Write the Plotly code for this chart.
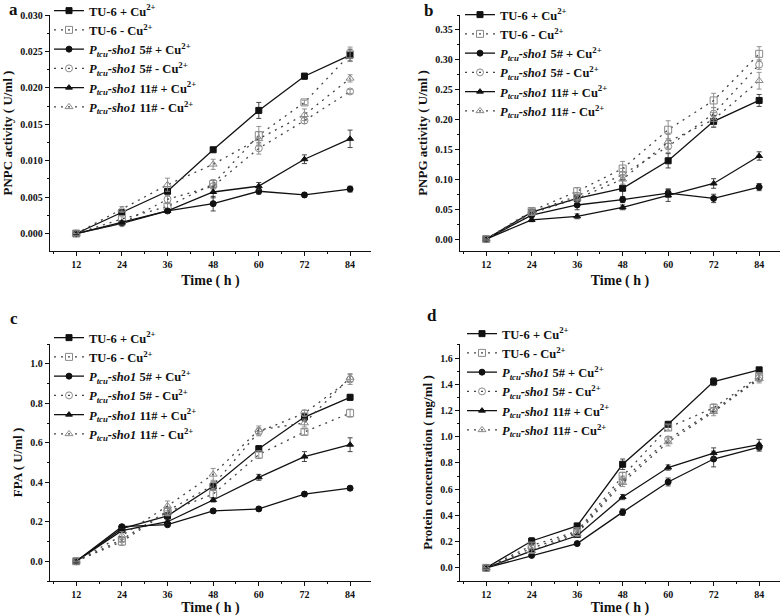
import plotly.graph_objects as go

time_h = [12, 24, 36, 48, 60, 72, 84]
x_ticks = [12, 24, 36, 48, 60, 72, 84]

names = [
    "TU-6 + Cu<sup>2+</sup>",
    "TU-6 - Cu<sup>2+</sup>",
    "<i>P<sub>tcu</sub>-sho1</i> 5# + Cu<sup>2+</sup>",
    "<i>P<sub>tcu</sub>-sho1</i> 5# - Cu<sup>2+</sup>",
    "<i>P<sub>tcu</sub>-sho1</i> 11# + Cu<sup>2+</sup>",
    "<i>P<sub>tcu</sub>-sho1</i> 11# - Cu<sup>2+</sup>",
]

# Panel a: PNPC activity (U/ml)
pnpc_tu6_plus = [0, 0.0029, 0.0058, 0.0115, 0.0169, 0.0216, 0.0245]
pnpc_tu6_minus = [0, 0.0020, 0.0037, 0.0068, 0.0135, 0.0180, 0.0246]
pnpc_5_plus = [0, 0.0014, 0.0031, 0.0041, 0.0058, 0.0053, 0.0061]
pnpc_5_minus = [0, 0.0014, 0.0047, 0.0065, 0.0117, 0.0155, 0.0195]
pnpc_11_plus = [0, 0.0015, 0.0031, 0.0057, 0.0065, 0.0102, 0.0130]
pnpc_11_minus = [0, 0.0033, 0.0067, 0.0095, 0.0130, 0.0163, 0.0213]
pnpc_err_tu6_plus = [0, 0.0002, 0.0003, 0.0003, 0.0011, 0.0004, 0.0008]
pnpc_err_tu6_minus = [0, 0.0003, 0.0004, 0.0006, 0.0012, 0.0003, 0.0010]
pnpc_err_5_plus = [0, 0.0002, 0.0003, 0.0010, 0.0004, 0.0003, 0.0004]
pnpc_err_5_minus = [0, 0.0002, 0.0005, 0.0008, 0.0008, 0.0004, 0.0003]
pnpc_err_11_plus = [0, 0.0002, 0.0003, 0.0008, 0.0005, 0.0006, 0.0012]
pnpc_err_11_minus = [0, 0.0004, 0.0009, 0.0007, 0.0010, 0.0008, 0.0005]

# Panel b: PNPG activity (U/ml)
pnpg_tu6_plus = [0, 0.045, 0.068, 0.085, 0.131, 0.197, 0.232]
pnpg_tu6_minus = [0, 0.047, 0.080, 0.118, 0.183, 0.232, 0.310]
pnpg_5_plus = [0, 0.040, 0.057, 0.066, 0.077, 0.068, 0.087]
pnpg_5_minus = [0, 0.045, 0.072, 0.108, 0.155, 0.210, 0.292]
pnpg_11_plus = [0, 0.032, 0.038, 0.053, 0.073, 0.093, 0.139]
pnpg_11_minus = [0, 0.043, 0.068, 0.100, 0.163, 0.200, 0.265]
pnpg_err_tu6_plus = [0, 0.003, 0.005, 0.015, 0.012, 0.010, 0.010]
pnpg_err_tu6_minus = [0, 0.003, 0.006, 0.012, 0.015, 0.012, 0.012]
pnpg_err_5_plus = [0, 0.003, 0.008, 0.005, 0.007, 0.007, 0.006]
pnpg_err_5_minus = [0, 0.003, 0.006, 0.010, 0.010, 0.010, 0.008]
pnpg_err_11_plus = [0, 0.003, 0.004, 0.004, 0.010, 0.008, 0.007]
pnpg_err_11_minus = [0, 0.003, 0.006, 0.008, 0.012, 0.012, 0.014]

# Panel c: FPA (U/ml)
fpa_tu6_plus = [0, 0.165, 0.23, 0.38, 0.57, 0.73, 0.83]
fpa_tu6_minus = [0, 0.10, 0.25, 0.34, 0.54, 0.655, 0.75]
fpa_5_plus = [0, 0.175, 0.185, 0.255, 0.265, 0.34, 0.37]
fpa_5_minus = [0, 0.11, 0.255, 0.385, 0.655, 0.75, 0.92]
fpa_11_plus = [0, 0.155, 0.20, 0.31, 0.425, 0.53, 0.59]
fpa_11_minus = [0, 0.13, 0.28, 0.44, 0.665, 0.70, 0.93]
fpa_err_tu6_plus = [0, 0.01, 0.01, 0.01, 0.015, 0.02, 0.015]
fpa_err_tu6_minus = [0, 0.02, 0.02, 0.02, 0.02, 0.015, 0.02]
fpa_err_5_plus = [0, 0.01, 0.01, 0.01, 0.01, 0.01, 0.01]
fpa_err_5_minus = [0, 0.01, 0.02, 0.02, 0.02, 0.015, 0.025]
fpa_err_11_plus = [0, 0.01, 0.01, 0.01, 0.015, 0.025, 0.035]
fpa_err_11_minus = [0, 0.02, 0.025, 0.03, 0.02, 0.02, 0.02]

# Panel d: Protein concentration (mg/ml)
prot_tu6_plus = [0, 0.205, 0.32, 0.79, 1.095, 1.42, 1.51]
prot_tu6_minus = [0, 0.17, 0.28, 0.70, 1.07, 1.22, 1.46]
prot_5_plus = [0, 0.095, 0.185, 0.425, 0.655, 0.83, 0.92]
prot_5_minus = [0, 0.15, 0.27, 0.67, 0.98, 1.20, 1.45]
prot_11_plus = [0, 0.13, 0.245, 0.54, 0.765, 0.875, 0.94]
prot_11_minus = [0, 0.13, 0.26, 0.65, 0.96, 1.19, 1.44]
prot_err_tu6_plus = [0, 0.025, 0.01, 0.04, 0.015, 0.03, 0.01]
prot_err_tu6_minus = [0, 0.02, 0.02, 0.03, 0.02, 0.03, 0.03]
prot_err_5_plus = [0, 0.01, 0.01, 0.025, 0.03, 0.06, 0.03]
prot_err_5_minus = [0, 0.02, 0.02, 0.03, 0.02, 0.02, 0.03]
prot_err_11_plus = [0, 0.01, 0.01, 0.02, 0.02, 0.04, 0.04]
prot_err_11_minus = [0, 0.02, 0.02, 0.03, 0.03, 0.03, 0.03]

panels = [
    ([pnpc_tu6_plus, pnpc_tu6_minus, pnpc_5_plus, pnpc_5_minus, pnpc_11_plus, pnpc_11_minus],
     [pnpc_err_tu6_plus, pnpc_err_tu6_minus, pnpc_err_5_plus, pnpc_err_5_minus, pnpc_err_11_plus, pnpc_err_11_minus]),
    ([pnpg_tu6_plus, pnpg_tu6_minus, pnpg_5_plus, pnpg_5_minus, pnpg_11_plus, pnpg_11_minus],
     [pnpg_err_tu6_plus, pnpg_err_tu6_minus, pnpg_err_5_plus, pnpg_err_5_minus, pnpg_err_11_plus, pnpg_err_11_minus]),
    ([fpa_tu6_plus, fpa_tu6_minus, fpa_5_plus, fpa_5_minus, fpa_11_plus, fpa_11_minus],
     [fpa_err_tu6_plus, fpa_err_tu6_minus, fpa_err_5_plus, fpa_err_5_minus, fpa_err_11_plus, fpa_err_11_minus]),
    ([prot_tu6_plus, prot_tu6_minus, prot_5_plus, prot_5_minus, prot_11_plus, prot_11_minus],
     [prot_err_tu6_plus, prot_err_tu6_minus, prot_err_5_plus, prot_err_5_minus, prot_err_11_plus, prot_err_11_minus]),
]

symbols = ["square", "square-open", "circle", "circle-open", "triangle-up", "triangle-up-open"]
FONT = "Liberation Serif"
W, H = 784, 616


def px_x(x):
    return x / W


def px_y(y):
    return 1 - y / H


fig = go.Figure()
for p, (vals, errs) in enumerate(panels):
    sfx = "" if p == 0 else str(p + 1)
    for i in range(6):
        solid = i % 2 == 0
        col = "#111111" if solid else "#8a8a8a"
        fig.add_trace(go.Scatter(
            x=time_h, y=vals[i], name=names[i],
            mode="lines+markers",
            line=dict(color="#111111" if solid else "#444444", width=1.3,
                      dash="solid" if solid else "2px,5px"),
            marker=dict(symbol=symbols[i], size=6 if solid else 7, color=col,
                        line=dict(color=col, width=1)),
            error_y=dict(type="data", array=errs[i], visible=True,
                         color="#333333" if solid else "#888888", thickness=0.9, width=2.5),
            xaxis="x" + sfx, yaxis="y" + sfx,
            legend="legend" + sfx,
        ))

x_dom_left = [px_x(50), px_x(371)]
x_dom_right = [px_x(460), px_x(780)]
y_dom_top = [px_y(251), px_y(15)]
y_dom_bot = [px_y(581), px_y(344)]

y_specs = [
    ("PNPC activity ( U/ml )", [-0.0024, 0.030], 0.005, ".3f", 0.0025),
    ("PNPG activity ( U/ml )", [-0.020, 0.375], 0.05, ".2f", 0.025),
    ("FPA ( U/ml )", [-0.10, 1.10], 0.2, ".1f", 0.1),
    ("Protein concentration ( mg/ml )", [-0.10, 1.707], 0.2, ".1f", 0.1),
]
x_doms = [x_dom_left, x_dom_right, x_dom_left, x_dom_right]
y_doms = [y_dom_top, y_dom_top, y_dom_bot, y_dom_bot]
x_standoff = [6, 6, 0, 0]

tickfont = dict(family=FONT, size=10, color="#111111", weight="bold")
titlefont = dict(family=FONT, size=14, color="#111111", weight="bold")

layout = {}
for p in range(4):
    sfx = "" if p == 0 else str(p + 1)
    ytitle, yrange, ydt, yfmt, yminor = y_specs[p]
    layout["xaxis" + sfx] = dict(
        domain=x_doms[p], anchor="y" + sfx, range=[5.1, 89.5], automargin=False,
        tickmode="array", tickvals=x_ticks, ticks="outside", ticklen=4, tickwidth=1,
        minor=dict(ticks="outside", ticklen=2, dtick=6, tick0=0, tickcolor="#111111"),
        showline=True, linecolor="#111111", linewidth=1.3, showgrid=False, zeroline=False,
        tickfont=tickfont, tickcolor="#111111",
        title=dict(text="Time ( h )", font=titlefont, standoff=x_standoff[p]),
    )
    layout["yaxis" + sfx] = dict(
        domain=y_doms[p], anchor="x" + sfx, range=yrange, automargin=False,
        tick0=0, dtick=ydt, tickformat=yfmt, ticks="outside", ticklen=4, tickwidth=1,
        minor=dict(ticks="outside", ticklen=2, dtick=yminor, tick0=0, tickcolor="#111111"),
        showline=True, linecolor="#111111", linewidth=1.3, showgrid=False, zeroline=False,
        tickfont=tickfont, tickcolor="#111111",
        title=dict(text=ytitle, font=dict(family=FONT, size=13, color="#111111", weight="bold"), standoff=4),
    )

# legend boxes: (left edge, top edge) in page pixels
legend_pos = [(49, -4), (460, 0), (49, 323), (462, 319)]
for p in range(4):
    key = "legend" if p == 0 else "legend" + str(p + 1)
    layout[key] = dict(
        x=px_x(legend_pos[p][0]), y=px_y(legend_pos[p][1]), xanchor="left", yanchor="top",
        bgcolor="rgba(0,0,0,0)", borderwidth=0, tracegroupgap=0, itemwidth=30,
        font=dict(family=FONT, size=12.5, color="#111111", weight="bold"),
    )

letters = [("a", 13, 9), ("b", 428, 10), ("c", 14, 318), ("d", 432, 315)]
annotations = [
    dict(text=t, x=px_x(xx), y=px_y(yy), xref="paper", yref="paper", showarrow=False,
         font=dict(family=FONT, size=17, color="#111111", weight="bold"),
         xanchor="center", yanchor="middle")
    for t, xx, yy in letters
]

fig.update_layout(
    width=W, height=H, margin=dict(l=0, r=0, t=0, b=0, autoexpand=False),
    paper_bgcolor="white", plot_bgcolor="white",
    font=dict(family=FONT, color="#111111"),
    showlegend=True, annotations=annotations,
    **layout,
)

fig.write_html(
    "out.html",
    config={"displayModeBar": False},
    post_script="document.body.style.margin='0px';document.body.style.overflow='hidden';",
)
